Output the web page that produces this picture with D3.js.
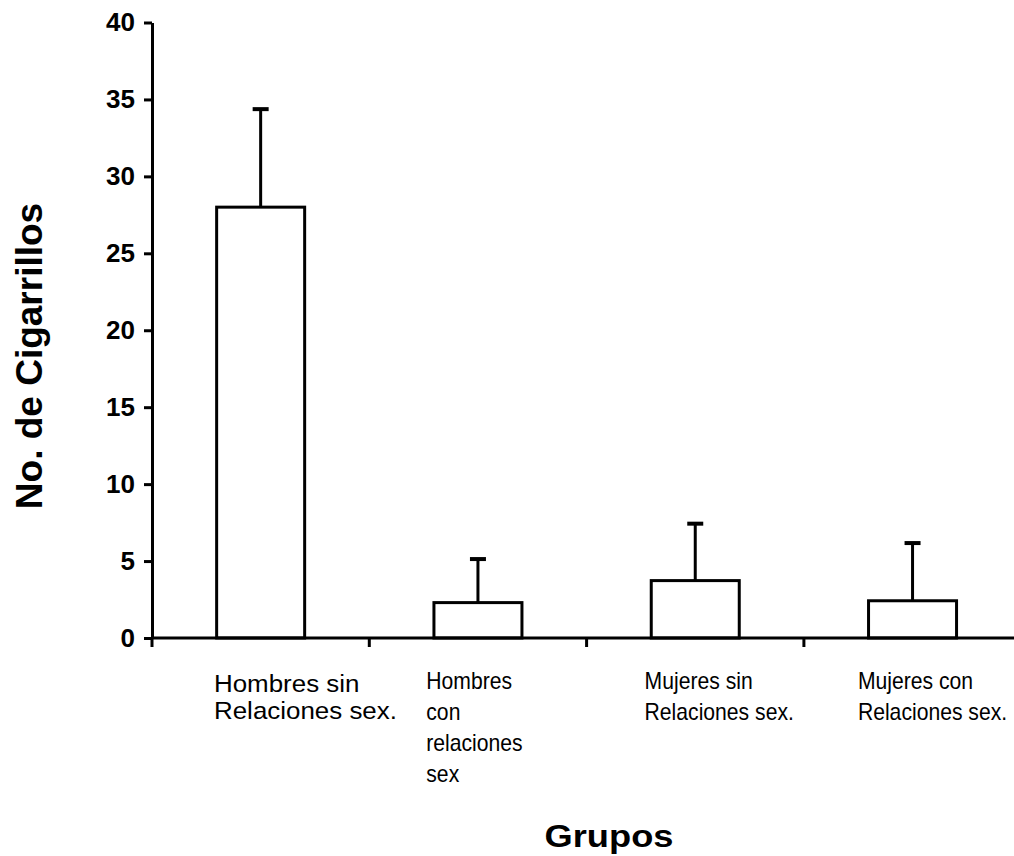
<!DOCTYPE html>
<html>
<head>
<meta charset="utf-8">
<script src="https://cdn.jsdelivr.net/npm/d3@7"></script>
<style>
  html, body { margin: 0; padding: 0; background: #fff; }
  svg { display: block; }
</style>
</head>
<body>
<svg id="chart" width="1014" height="856"></svg>
<script>
// ---- data ----
const categories = ["Hombres sin Relaciones sex.", "Hombres con relaciones sex", "Mujeres sin Relaciones sex.", "Mujeres con Relaciones sex."];
const categoryLines = [
  ["Hombres sin", "Relaciones sex."],
  ["Hombres", "con", "relaciones", "sex"],
  ["Mujeres sin", "Relaciones sex."],
  ["Mujeres con", "Relaciones sex."]
];
const means = [28.0, 2.3, 3.73, 2.42];
const errors = [6.37, 2.83, 3.7, 3.75];
const yTicks = [0, 5, 10, 15, 20, 25, 30, 35, 40];
const yTitle = "No. de Cigarrillos";
const xTitle = "Grupos";

// ---- layout ----
const svg = d3.select("#chart");
const x0 = 152, yBottom = 638, yTop = 22.5, bandW = 217.3;
const x = d3.scaleBand().domain(categories).range([x0, x0 + bandW * categories.length]).padding(0);
const y = d3.scaleLinear().domain([0, 40]).range([yBottom, yTop]);
const barW = x.bandwidth() * 0.405;
const capW = 16;
const sw = 3;

// Bars
svg.append("g").selectAll("rect").data(categories).join("rect")
  .attr("x", d => x(d) + x.bandwidth() / 2 - barW / 2)
  .attr("y", (d, i) => y(means[i]))
  .attr("width", barW)
  .attr("height", (d, i) => y(0) - y(means[i]))
  .attr("fill", "#fff").attr("stroke", "#000").attr("stroke-width", sw);

// Error bars (upper only)
const eb = svg.append("g").attr("stroke", "#000").attr("stroke-width", sw);
categories.forEach((c, i) => {
  const cx = x(c) + x.bandwidth() / 2;
  eb.append("line").attr("x1", cx).attr("x2", cx).attr("y1", y(means[i])).attr("y2", y(means[i] + errors[i]));
  eb.append("line").attr("x1", cx - capW / 2).attr("x2", cx + capW / 2)
    .attr("y1", y(means[i] + errors[i])).attr("y2", y(means[i] + errors[i])).attr("stroke-width", 4);
});

// X axis line + ticks at band boundaries
const xa = svg.append("g").attr("stroke", "#000").attr("stroke-width", sw);
xa.append("line").attr("x1", x0).attr("x2", 1014).attr("y1", y(0)).attr("y2", y(0));
categories.forEach(c => {
  xa.append("line").attr("x1", x(c)).attr("x2", x(c)).attr("y1", y(0)).attr("y2", y(0) + 9);
});

// Y axis
const yAxis = svg.append("g").attr("transform", `translate(${x0},0)`)
  .call(d3.axisLeft(y).tickValues(yTicks).tickSize(8).tickSizeOuter(0).tickPadding(9));
yAxis.select(".domain").attr("stroke", "#000").attr("stroke-width", sw);
yAxis.selectAll(".tick line").attr("stroke", "#000").attr("stroke-width", sw);
yAxis.selectAll(".tick text")
  .attr("font-family", "'Liberation Sans', Arial, sans-serif")
  .attr("font-weight", "bold").attr("font-size", 26).attr("fill", "#000");

// Category labels
const labelOffsets = [62, 57, 58, 54];
categoryLines.forEach((lines, i) => {
  const first = i === 0;
  const t = svg.append("text")
    .attr("font-family", "'Liberation Sans', Arial, sans-serif")
    .attr("font-size", first ? 24 : 23)
    .attr("fill", "#000")
    .attr("transform", `translate(${x(categories[i]) + labelOffsets[i]},${first ? 692 : 689}) scale(${first ? 1.08 : 0.92},1)`);
  lines.forEach((ln, j) => {
    t.append("tspan").attr("x", 0).attr("y", j * (first ? 27.5 : 31)).text(ln);
  });
});

// Y title
svg.append("text")
  .attr("transform", "translate(42,356) rotate(-90)")
  .attr("text-anchor", "middle")
  .attr("font-family", "'Liberation Sans', Arial, sans-serif")
  .attr("font-weight", "bold").attr("font-size", 37).attr("fill", "#000")
  .text(yTitle);

// X title
svg.append("text")
  .attr("transform", "translate(609,847) scale(1.17,1)")
  .attr("text-anchor", "middle")
  .attr("font-family", "'Liberation Sans', Arial, sans-serif")
  .attr("font-weight", "bold").attr("font-size", 31).attr("fill", "#000")
  .text(xTitle);
</script>
</body>
</html>
